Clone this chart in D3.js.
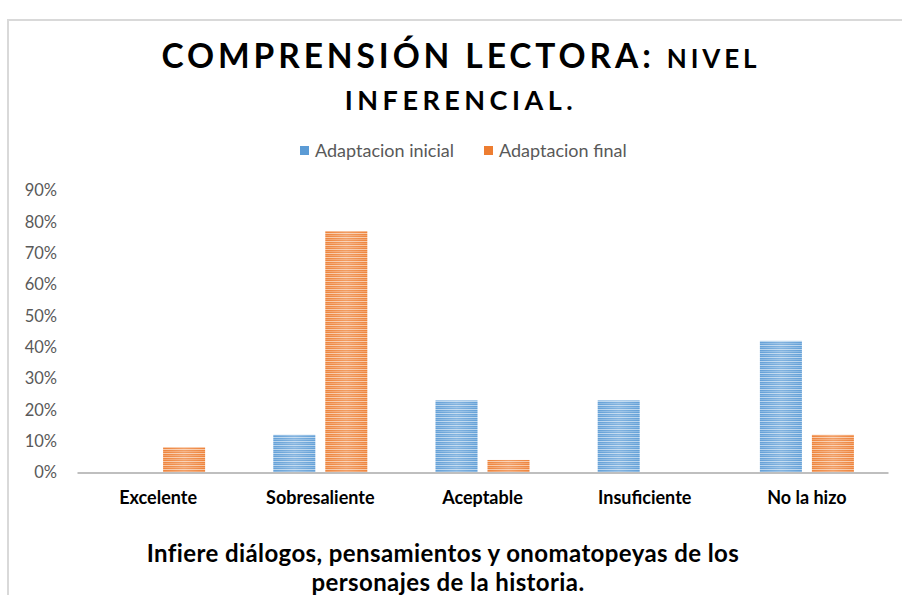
<!doctype html>
<html>
<head>
<meta charset="UTF-8" />
<script src="https://cdn.jsdelivr.net/npm/d3@7"></script>
<style>
  body { margin: 0; background: #fff; }
  svg { display: block; font-family: Lato, "Open Sans", sans-serif; }
</style>
</head>
<body>
<svg id="chart" width="902" height="595"></svg>
<script>
(function(){
  "use strict";

  const categories = ["Excelente", "Sobresaliente", "Aceptable", "Insuficiente", "No la hizo"];
  const seriesNames = ["Adaptacion inicial", "Adaptacion final"];
  const inicial = [0, 0.12, 0.23, 0.23, 0.42];
  const final = [0.08, 0.77, 0.04, 0, 0.12];
  const yTicks = [0, 0.1, 0.2, 0.3, 0.4, 0.5, 0.6, 0.7, 0.8, 0.9];
  const colors = ["#5B9BD5", "#ED7D31"];

  const svg = d3.select("#chart");

  // chart area border (only top and left visible in the crop)
  svg.append("path")
     .attr("d", "M8,595 V20 H902")
     .attr("fill", "none")
     .attr("stroke", "#d9d9d9")
     .attr("stroke-width", 2);

  // striped fills
  const defs = svg.append("defs");
  colors.forEach(function(c, i){
    const light = d3.interpolateRgb(c, "#fff")(0.55);
    const mid = d3.interpolateRgb(c, "#fff")(0.25);
    const p = defs.append("pattern")
                  .attr("id", "stripe" + i)
                  .attr("patternUnits", "userSpaceOnUse")
                  .attr("width", 8).attr("height", 4);
    p.append("rect").attr("width", 8).attr("height", 4).attr("fill", c);
    p.append("rect").attr("y", 1).attr("width", 8).attr("height", 1).attr("fill", light);
    p.append("rect").attr("y", 3).attr("width", 8).attr("height", 1).attr("fill", mid);
  });
  const g = defs.append("linearGradient").attr("id", "sheen");
  g.append("stop").attr("offset", "0%").attr("stop-color", "#fff").attr("stop-opacity", 0.05);
  g.append("stop").attr("offset", "50%").attr("stop-color", "#fff").attr("stop-opacity", 0.25);
  g.append("stop").attr("offset", "100%").attr("stop-color", "#fff").attr("stop-opacity", 0.05);

  const x0 = d3.scaleBand().domain(categories).range([77, 888]);
  const half = 47;
  const x1 = d3.scaleBand().domain(seriesNames)
               .range([x0.bandwidth() / 2 - half, x0.bandwidth() / 2 + half])
               .paddingInner(10 / 52);
  const y = d3.scaleLinear().domain([0, 0.9]).range([472.5, 190.5]);

  // y axis labels
  const yAxis = svg.append("g")
     .attr("transform", "translate(57,0)")
     .call(d3.axisLeft(y).tickValues(yTicks).tickFormat(d3.format(".0%")).tickSize(0).tickPadding(0));
  yAxis.select(".domain").remove();
  yAxis.selectAll("text")
       .attr("fill", "#595959")
       .style("font-size", "16.5px")
       .style("font-family", "Lato, sans-serif");

  // bars
  const rows = categories.map(function(c, i){
    return [{cat: c, s: 0, v: inicial[i]}, {cat: c, s: 1, v: final[i]}];
  });
  const groups = svg.append("g").selectAll("g")
     .data(rows).enter().append("g")
     .attr("transform", function(d){ return "translate(" + x0(d[0].cat) + ",0)"; });
  groups.selectAll("rect.bar")
     .data(function(d){ return d.filter(function(e){ return e.v > 0; }); })
     .enter().append("rect")
     .attr("class", "bar")
     .attr("x", function(d){ return x1(seriesNames[d.s]); })
     .attr("y", function(d){ return y(d.v); })
     .attr("width", x1.bandwidth())
     .attr("height", function(d){ return y(0) - y(d.v); })
     .attr("fill", function(d){ return "url(#stripe" + d.s + ")"; });
  groups.selectAll("rect.sheen")
     .data(function(d){ return d.filter(function(e){ return e.v > 0; }); })
     .enter().append("rect")
     .attr("class", "sheen")
     .attr("x", function(d){ return x1(seriesNames[d.s]); })
     .attr("y", function(d){ return y(d.v); })
     .attr("width", x1.bandwidth())
     .attr("height", function(d){ return y(0) - y(d.v); })
     .attr("fill", "url(#sheen)");

  // x axis
  const xAxis = svg.append("g")
     .attr("transform", "translate(0," + y(0) + ")")
     .call(d3.axisBottom(x0).tickSize(0).tickPadding(19));
  xAxis.select(".domain").attr("stroke", "#bfbfbf").attr("stroke-width", 2);
  xAxis.selectAll("text")
       .attr("fill", "#000")
       .style("font-size", "18px")
       .style("font-weight", "bold")
       .style("font-family", "Lato, sans-serif");

  // title
  const t = svg.append("text")
     .attr("x", 461).attr("y", 68)
     .attr("text-anchor", "middle")
     .style("font-weight", "bold")
     .style("letter-spacing", "3.9px");
  t.append("tspan").style("font-size", "33.5px").text("COMPRENSIÓN LECTORA: ");
  t.append("tspan").style("font-size", "26px").text("NIVEL");
  svg.append("text")
     .attr("x", 461).attr("y", 110)
     .attr("text-anchor", "middle")
     .style("font-weight", "bold")
     .style("letter-spacing", "4.5px")
     .style("font-size", "27px")
     .text("INFERENCIAL.");

  // legend
  const legend = svg.append("g").attr("transform", "translate(300,146)");
  const lx = [0, 184];
  seriesNames.forEach(function(s, i){
    legend.append("rect").attr("x", lx[i]).attr("y", 0).attr("width", 9).attr("height", 9).attr("fill", colors[i]);
    legend.append("text").attr("x", lx[i] + 15).attr("y", 11)
          .attr("fill", "#595959").style("font-size", "18px").text(s);
  });

  // bottom axis title
  const bt = svg.append("text")
     .attr("text-anchor", "middle")
     .style("font-weight", "bold")
     .style("font-size", "24px")
     .style("letter-spacing", "0.4px");
  bt.append("tspan").attr("x", 443).attr("y", 562).text("Infiere diálogos, pensamientos y onomatopeyas de los");
  bt.append("tspan").attr("x", 448).attr("y", 591).text("personajes de la historia.");
})();
</script>
</body>
</html>
